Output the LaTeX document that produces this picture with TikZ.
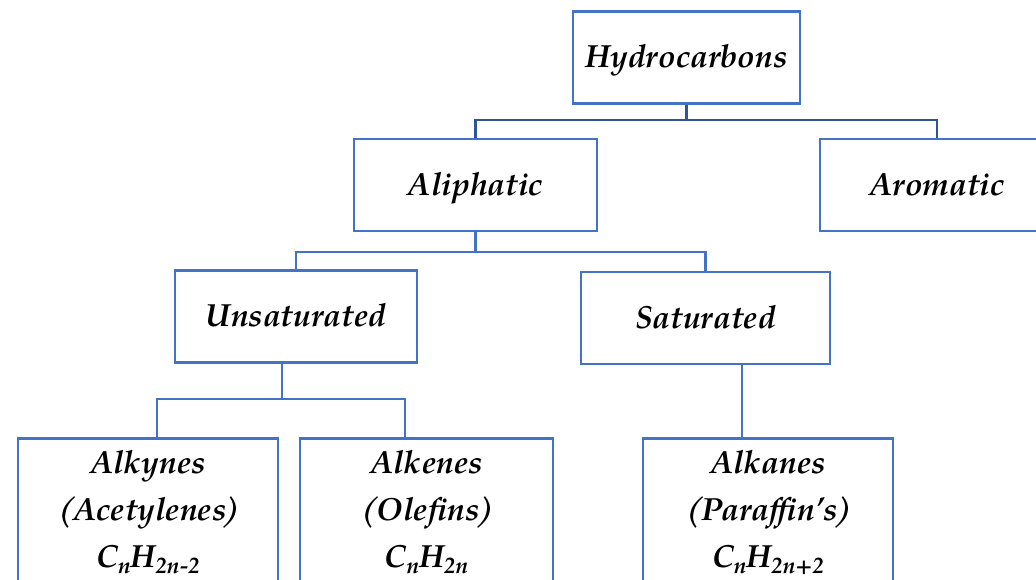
\documentclass[tikz,border=0pt]{standalone}
\usepackage{fontspec}
\setmainfont{TeX Gyre Pagella}
\newfontfamily\parenfont{TeX Gyre Pagella}[UprightFont=*-Bold, FakeSlant=0.22]
\newcommand{\lp}{{\parenfont(}}
\newcommand{\rp}{\kern-2.5pt{\parenfont)}}
\newcommand{\sbs}[1]{\raisebox{-4.5pt}{\fontsize{17}{17}\selectfont #1}}
\usetikzlibrary{calc}
\definecolor{boxblue}{HTML}{4472C4}
\definecolor{darkblue}{HTML}{2F5597}
\begin{document}
\begin{tikzpicture}[x=0.75pt,y=-0.75pt,
  box/.style={draw=boxblue, line width=2pt, fill=white, inner sep=0pt,
    font=\fontsize{24}{35.25}\selectfont\bfseries\itshape},
  single/.style={box, minimum height=69pt, text height=18pt, text depth=3pt},
  multi/.style={box, anchor=north, align=center},
  conn/.style={draw=boxblue, line width=1.6pt},
  topconn/.style={conn, draw=darkblue}]
\useasboundingbox (0,0) rectangle (1036,579);
% top level
\node[single, minimum width={227*0.75pt}] (hc) at (686.5,57.5) {Hydrocarbons};
\node[single, minimum width={243*0.75pt}] (al) at (475.5,185) {Aliphatic};
\node[single, minimum width={234*0.75pt}] (ar) at (937,185) {Aromatic};
\node[single, minimum width={242*0.75pt}] (un) at (296,316.5) {Unsaturated};
\node[single, minimum width={249*0.75pt}] (sa) at (705.5,318) {Saturated};
\node[multi, minimum width={260*0.75pt}] (ak) at (148,437)
  {\rule{0pt}{26.25pt}Alkynes\\\lp Acetylenes\rp\\C\sbs{n}H\sbs{2n-2}\rule[-60pt]{0pt}{0pt}};
\node[multi, minimum width={253*0.75pt}] (ae) at (426.5,437)
  {\rule{0pt}{26.25pt}Alkenes\\\lp Olefins\rp\\C\sbs{n}H\sbs{2n}\rule[-60pt]{0pt}{0pt}};
\node[multi, minimum width={250*0.75pt}] (an) at (768,437)
  {\rule{0pt}{26.25pt}Alkanes\\\lp Paraffin's\rp\\C\sbs{n}H\sbs{2n+2}\rule[-60pt]{0pt}{0pt}};
% junctions
\coordinate (j1) at (686.5,120);
\coordinate (j2) at (476,252);
\coordinate (j3) at (282,399);
\coordinate (j4) at (742,400);
% connectors
\draw[topconn] (hc.south) -- (hc.south |- j1);
\draw[topconn] (al.north) |- (j1) -| (ar.north);
\draw[conn] (al.south) -- (al.south |- j2);
\draw[conn] (un.north) |- (j2) -| (sa.north);
\draw[conn] (un.south -| j3) -- (j3);
\draw[conn] ([xshift=6.75pt]ak.north) |- (j3) -| ([xshift=-16.125pt]ae.north);
\draw[conn] (sa.south -| j4) -- (an.north -| j4);
\end{tikzpicture}
\end{document}
